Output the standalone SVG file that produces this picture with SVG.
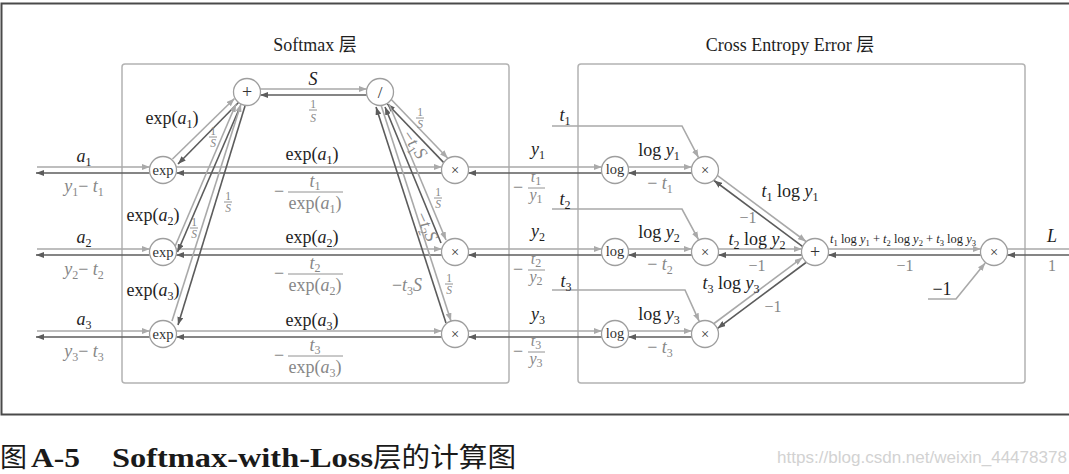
<svg xmlns="http://www.w3.org/2000/svg" width="1069" height="474" viewBox="0 0 1069 474">
<defs>
<style>
.fw{fill:none;stroke:#a9a9a9;stroke-width:1.6;marker-end:url(#af)}
.bw{fill:none;stroke:#5c5c5c;stroke-width:1.6;marker-end:url(#ab)}
.fn{fill:none;stroke:#a9a9a9;stroke-width:1.6}
.box{fill:none;stroke:#b3b3b3;stroke-width:1.5}
.nd{fill:#fff;stroke:#9e9e9e;stroke-width:1.3}
.nt{font-family:"Liberation Serif",serif;font-size:14.5px;fill:#333;text-anchor:middle}
.m{font-family:"Liberation Serif","Noto Sans CJK SC",serif;font-size:18px;fill:#1e1e1e;text-anchor:middle}
.q{font-size:16px}
.g{fill:#878787}
.i{font-style:italic}
.s{font-size:12px}
.f{font-family:"Liberation Serif",serif;font-size:11.5px;fill:#878787;text-anchor:middle}
.bar{stroke:#878787;stroke-width:0.9}
</style>
<marker id="af" markerUnits="userSpaceOnUse" markerWidth="8" markerHeight="6" refX="8" refY="3" orient="auto"><path d="M0,0L8,3L0,6z" fill="#a9a9a9"/></marker>
<marker id="ab" markerUnits="userSpaceOnUse" markerWidth="8" markerHeight="6" refX="8" refY="3" orient="auto"><path d="M0,0L8,3L0,6z" fill="#5c5c5c"/></marker>
</defs>
<rect width="1069" height="474" fill="#fff"/>
<rect x="1.5" y="3.5" width="1080" height="411" fill="none" stroke="#4a4a4a" stroke-width="2"/>
<g id="softmax-layer"><rect class="box" x="122" y="64" width="387" height="319" rx="3"/><text class="m" x="315" y="51">Softmax 层</text></g>
<g id="cee-layer"><rect class="box" x="578" y="64" width="447" height="319" rx="3"/><text class="m" x="790" y="51">Cross Entropy Error 层</text></g>

<g id="connectors">
<path class="fw" d="M37,167H149.8"/><path class="bw" d="M149.8,173H36"/>
<path class="fw" d="M37,249H149.8"/><path class="bw" d="M149.8,255H36"/>
<path class="fw" d="M37,331H149.8"/><path class="bw" d="M149.8,337H36"/>
<path class="fw" d="M176.2,167H441.8"/><path class="bw" d="M441.8,173H176.2"/>
<path class="fw" d="M176.2,249H441.8"/><path class="bw" d="M441.8,255H176.2"/>
<path class="fw" d="M176.2,331H441.8"/><path class="bw" d="M441.8,337H176.2"/>
<path class="fw" d="M468.2,167H601.8"/><path class="bw" d="M601.8,173H468.2"/>
<path class="fw" d="M468.2,249H601.8"/><path class="bw" d="M601.8,255H468.2"/>
<path class="fw" d="M468.2,331H601.8"/><path class="bw" d="M601.8,337H468.2"/>
<path class="fw" d="M628.2,167H691.8"/><path class="bw" d="M691.8,173H628.2"/>
<path class="fw" d="M628.2,249H691.8"/><path class="bw" d="M691.8,255H628.2"/>
<path class="fw" d="M628.2,331H691.8"/><path class="bw" d="M691.8,337H628.2"/>
<path class="fw" d="M172.5,159L234.5,98.5"/><path class="bw" d="M238.5,102.5L178,164"/>
<path class="fw" d="M175,246.5L236,104"/><path class="bw" d="M240,107L177.5,252"/>
<path class="fw" d="M172,321L241,104"/><path class="bw" d="M245,106L178,325"/>
<path class="fw" d="M260.2,89H366.8"/><path class="bw" d="M366.8,95H260.2"/>
<path class="fw" d="M391.5,99.7L447.8,158.2"/><path class="bw" d="M443.5,162.4L387.2,103.8"/>
<path class="fw" d="M389,104L446,240"/><path class="bw" d="M441,243L385,107"/>
<path class="fw" d="M381,105L451,321"/><path class="bw" d="M446,323L376,107"/>
<path class="fw" d="M717.6,175.7L806,241.5"/><path class="bw" d="M802.4,246.3L714,180.5"/>
<path class="fw" d="M718.2,249H801.8"/><path class="bw" d="M801.8,255H718.2"/>
<path class="fw" d="M714,323.5L802.4,257.7"/><path class="bw" d="M806,262.5L717.6,328.3"/>
<path class="fw" d="M828.2,249H980.8"/><path class="bw" d="M980.8,255H828.2"/>
<path class="fn" d="M1007.2,249H1070"/><path class="bw" d="M1070,255H1007.2"/>
<path class="fw" d="M552,126H682L698.5,157.6"/>
<path class="fw" d="M552,209H682L698.5,239.6"/>
<path class="fw" d="M552,290H685L699.2,321.3"/>
<path class="fw" d="M928,299H956L985.2,262.9"/>
</g>

<g id="exp1"><circle class="nd" cx="163" cy="170" r="13.5"/><text class="nt" x="163" y="174.5">exp</text></g>
<g id="exp2"><circle class="nd" cx="163" cy="252" r="13.5"/><text class="nt" x="163" y="256.5">exp</text></g>
<g id="exp3"><circle class="nd" cx="163" cy="334" r="13.5"/><text class="nt" x="163" y="338.5">exp</text></g>
<g id="sum-softmax"><circle class="nd" cx="247" cy="92" r="13.5"/><text class="nt" x="247" y="97.5" style="font-size:18px">+</text></g>
<g id="div"><circle class="nd" cx="380" cy="92" r="13.5"/><text class="nt" x="380" y="97.5" style="font-size:17px">/</text></g>
<g id="mul1"><circle class="nd" cx="455" cy="170" r="13.5"/><text class="nt" x="455" y="175">×</text></g>
<g id="mul2"><circle class="nd" cx="455" cy="252" r="13.5"/><text class="nt" x="455" y="257">×</text></g>
<g id="mul3"><circle class="nd" cx="455" cy="334" r="13.5"/><text class="nt" x="455" y="339">×</text></g>
<g id="log1"><circle class="nd" cx="615" cy="170" r="13.5"/><text class="nt" x="615" y="174">log</text></g>
<g id="log2"><circle class="nd" cx="615" cy="252" r="13.5"/><text class="nt" x="615" y="256">log</text></g>
<g id="log3"><circle class="nd" cx="615" cy="334" r="13.5"/><text class="nt" x="615" y="338">log</text></g>
<g id="cmul1"><circle class="nd" cx="705" cy="170" r="13.5"/><text class="nt" x="705" y="175">×</text></g>
<g id="cmul2"><circle class="nd" cx="705" cy="252" r="13.5"/><text class="nt" x="705" y="257">×</text></g>
<g id="cmul3"><circle class="nd" cx="705" cy="334" r="13.5"/><text class="nt" x="705" y="339">×</text></g>
<g id="sum-cee"><circle class="nd" cx="815" cy="252" r="13.5"/><text class="nt" x="815" y="257.5" style="font-size:18px">+</text></g>
<g id="mul-final"><circle class="nd" cx="994" cy="252" r="13.5"/><text class="nt" x="994" y="257">×</text></g>

<g id="labels">
<text class="m" x="84" y="162"><tspan class="i">a</tspan><tspan class="s" dy="4">1</tspan></text>
<text class="m g" x="84" y="192"><tspan class="i">y</tspan><tspan class="s" dy="4">1</tspan><tspan dy="-4">− </tspan><tspan class="i">t</tspan><tspan class="s" dy="4">1</tspan></text>
<text class="m" x="84" y="243"><tspan class="i">a</tspan><tspan class="s" dy="4">2</tspan></text>
<text class="m g" x="84" y="275"><tspan class="i">y</tspan><tspan class="s" dy="4">2</tspan><tspan dy="-4">− </tspan><tspan class="i">t</tspan><tspan class="s" dy="4">2</tspan></text>
<text class="m" x="84" y="325"><tspan class="i">a</tspan><tspan class="s" dy="4">3</tspan></text>
<text class="m g" x="84" y="357"><tspan class="i">y</tspan><tspan class="s" dy="4">3</tspan><tspan dy="-4">− </tspan><tspan class="i">t</tspan><tspan class="s" dy="4">3</tspan></text>

<text class="m" x="172" y="124">exp(<tspan class="i">a</tspan><tspan class="s" dy="4">1</tspan><tspan dy="-4">)</tspan></text>
<text class="m" x="153" y="221">exp(<tspan class="i">a</tspan><tspan class="s" dy="4">2</tspan><tspan dy="-4">)</tspan></text>
<text class="m" x="153" y="296">exp(<tspan class="i">a</tspan><tspan class="s" dy="4">3</tspan><tspan dy="-4">)</tspan></text>
<text class="f" x="213" y="135">1</text><line class="bar" x1="209" y1="137" x2="217" y2="137"/><text class="f i" x="213" y="146.5">S</text>
<text class="f" x="194" y="226">1</text><line class="bar" x1="190" y1="228" x2="198" y2="228"/><text class="f i" x="194" y="237.5">S</text>
<text class="f" x="228" y="200">1</text><line class="bar" x1="224" y1="202" x2="232" y2="202"/><text class="f i" x="228" y="211.5">S</text>

<text class="m i" x="313" y="85">S</text>
<text class="f" x="313" y="108">1</text><line class="bar" x1="309" y1="110" x2="317" y2="110"/><text class="f i" x="313" y="121.5">S</text>

<text class="m" x="312" y="160">exp(<tspan class="i">a</tspan><tspan class="s" dy="4">1</tspan><tspan dy="-4">)</tspan></text>
<text class="m g" x="279" y="197">−</text>
<text class="m g" x="315" y="187"><tspan class="i">t</tspan><tspan class="s" dy="3">1</tspan></text>
<line class="bar" x1="288" y1="192" x2="343" y2="192"/>
<text class="m g" x="315" y="209">exp(<tspan class="i">a</tspan><tspan class="s" dy="4">1</tspan><tspan dy="-4">)</tspan></text>

<text class="m" x="312" y="243">exp(<tspan class="i">a</tspan><tspan class="s" dy="4">2</tspan><tspan dy="-4">)</tspan></text>
<text class="m g" x="279" y="279">−</text>
<text class="m g" x="315" y="269"><tspan class="i">t</tspan><tspan class="s" dy="3">2</tspan></text>
<line class="bar" x1="288" y1="274" x2="343" y2="274"/>
<text class="m g" x="315" y="291">exp(<tspan class="i">a</tspan><tspan class="s" dy="4">2</tspan><tspan dy="-4">)</tspan></text>

<text class="m" x="312" y="326">exp(<tspan class="i">a</tspan><tspan class="s" dy="4">3</tspan><tspan dy="-4">)</tspan></text>
<text class="m g" x="279" y="361">−</text>
<text class="m g" x="315" y="351"><tspan class="i">t</tspan><tspan class="s" dy="3">3</tspan></text>
<line class="bar" x1="288" y1="356" x2="343" y2="356"/>
<text class="m g" x="315" y="373">exp(<tspan class="i">a</tspan><tspan class="s" dy="4">3</tspan><tspan dy="-4">)</tspan></text>

<text class="f" x="420" y="116">1</text><line class="bar" x1="416" y1="118" x2="424" y2="118"/><text class="f i" x="420" y="127.5">S</text>
<text class="f" x="438" y="196">1</text><line class="bar" x1="434" y1="198" x2="442" y2="198"/><text class="f i" x="438" y="207.5">S</text>
<text class="f" x="449" y="282">1</text><line class="bar" x1="445" y1="284" x2="453" y2="284"/><text class="f i" x="449" y="293.5">S</text>
<text class="m g" transform="translate(414,145) rotate(56)" y="5">−<tspan class="i">t</tspan><tspan class="s" dy="4">1</tspan><tspan class="i" dy="-4">S</tspan></text>
<text class="m g" transform="translate(426,227) rotate(66)" y="5">−<tspan class="i">t</tspan><tspan class="s" dy="4">2</tspan><tspan class="i" dy="-4">S</tspan></text>
<text class="m g" x="407" y="291">−<tspan class="i">t</tspan><tspan class="s" dy="4">3</tspan><tspan class="i" dy="-4">S</tspan></text>

<text class="m" x="565" y="121"><tspan class="i">t</tspan><tspan class="s" dy="4">1</tspan></text>
<text class="m" x="565" y="205"><tspan class="i">t</tspan><tspan class="s" dy="4">2</tspan></text>
<text class="m" x="566" y="287"><tspan class="i">t</tspan><tspan class="s" dy="4">3</tspan></text>

<text class="m" x="538" y="155"><tspan class="i">y</tspan><tspan class="s" dy="4">1</tspan></text>
<text class="m g" x="518" y="193">−</text>
<text class="m g q" x="536" y="182"><tspan class="i">t</tspan><tspan class="s" dy="3">1</tspan></text>
<line class="bar" x1="528" y1="188" x2="545" y2="188"/>
<text class="m g q" x="536" y="200"><tspan class="i">y</tspan><tspan class="s" dy="3">1</tspan></text>

<text class="m" x="538" y="237"><tspan class="i">y</tspan><tspan class="s" dy="4">2</tspan></text>
<text class="m g" x="518" y="275">−</text>
<text class="m g q" x="536" y="264"><tspan class="i">t</tspan><tspan class="s" dy="3">2</tspan></text>
<line class="bar" x1="528" y1="270" x2="545" y2="270"/>
<text class="m g q" x="536" y="282"><tspan class="i">y</tspan><tspan class="s" dy="3">2</tspan></text>

<text class="m" x="538" y="320"><tspan class="i">y</tspan><tspan class="s" dy="4">3</tspan></text>
<text class="m g" x="518" y="357">−</text>
<text class="m g q" x="536" y="346"><tspan class="i">t</tspan><tspan class="s" dy="3">3</tspan></text>
<line class="bar" x1="528" y1="352" x2="545" y2="352"/>
<text class="m g q" x="536" y="364"><tspan class="i">y</tspan><tspan class="s" dy="3">3</tspan></text>

<text class="m" x="659" y="156">log <tspan class="i">y</tspan><tspan class="s" dy="4">1</tspan></text>
<text class="m g" x="660" y="189">− <tspan class="i">t</tspan><tspan class="s" dy="4">1</tspan></text>
<text class="m" x="659" y="238">log <tspan class="i">y</tspan><tspan class="s" dy="4">2</tspan></text>
<text class="m g" x="660" y="270">− <tspan class="i">t</tspan><tspan class="s" dy="4">2</tspan></text>
<text class="m" x="659" y="320">log <tspan class="i">y</tspan><tspan class="s" dy="4">3</tspan></text>
<text class="m g" x="660" y="353">− <tspan class="i">t</tspan><tspan class="s" dy="4">3</tspan></text>

<text class="m" x="790" y="197"><tspan class="i">t</tspan><tspan class="s" dy="4">1</tspan><tspan dy="-4"> log </tspan><tspan class="i">y</tspan><tspan class="s" dy="4">1</tspan></text>
<text class="m g q" x="748" y="223">−1</text>
<text class="m" x="757" y="245"><tspan class="i">t</tspan><tspan class="s" dy="4">2</tspan><tspan dy="-4"> log </tspan><tspan class="i">y</tspan><tspan class="s" dy="4">2</tspan></text>
<text class="m g q" x="757" y="271">−1</text>
<text class="m" x="731" y="289"><tspan class="i">t</tspan><tspan class="s" dy="4">3</tspan><tspan dy="-4"> log </tspan><tspan class="i">y</tspan><tspan class="s" dy="4">3</tspan></text>
<text class="m g q" x="773" y="312">−1</text>

<text class="m" x="903" y="243" style="font-size:12.5px"><tspan class="i">t</tspan><tspan style="font-size:8.5px" dy="2.5">1</tspan><tspan dy="-2.5"> log </tspan><tspan class="i">y</tspan><tspan style="font-size:8.5px" dy="2.5">1</tspan><tspan dy="-2.5"> + </tspan><tspan class="i">t</tspan><tspan style="font-size:8.5px" dy="2.5">2</tspan><tspan dy="-2.5"> log </tspan><tspan class="i">y</tspan><tspan style="font-size:8.5px" dy="2.5">2</tspan><tspan dy="-2.5"> + </tspan><tspan class="i">t</tspan><tspan style="font-size:8.5px" dy="2.5">3</tspan><tspan dy="-2.5"> log </tspan><tspan class="i">y</tspan><tspan style="font-size:8.5px" dy="2.5">3</tspan></text>
<text class="m g q" x="905" y="271">−1</text>
<text class="m i" x="1052" y="242">L</text>
<text class="m g q" x="1052" y="271">1</text>
<text class="m" x="942" y="295">−1</text>
</g>

<g id="caption">
<text x="0" y="467" style="font-family:'Noto Sans CJK SC',sans-serif;font-size:27px;fill:#1a1a1a">图</text>
<text x="31" y="467" style="font-family:'Liberation Serif',serif;font-weight:bold;font-size:28px;fill:#1a1a1a" textLength="49" lengthAdjust="spacingAndGlyphs">A-5</text>
<text x="112" y="467" style="font-family:'Liberation Serif',serif;font-weight:bold;font-size:28px;fill:#1a1a1a" textLength="261" lengthAdjust="spacingAndGlyphs">Softmax-with-Loss</text>
<text x="373" y="467" style="font-family:'Noto Sans CJK SC',sans-serif;font-size:27px;fill:#1a1a1a" textLength="143" lengthAdjust="spacingAndGlyphs">层的计算图</text>
<text x="777" y="463" style="font-family:'Liberation Sans',sans-serif;font-size:17px;fill:#d2d2d2" textLength="290" lengthAdjust="spacingAndGlyphs">https://blog.csdn.net/weixin_44478378</text>
</g>
</svg>
